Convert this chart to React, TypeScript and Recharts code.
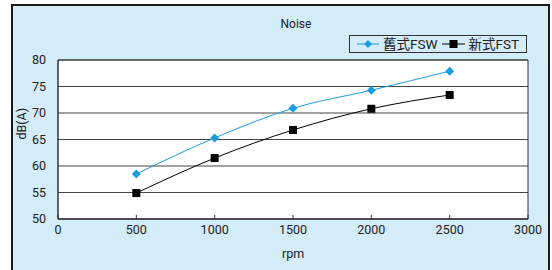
import { LineChart, Line, XAxis, YAxis, CartesianGrid, ReferenceArea } from 'recharts';

const rpm = [500, 1000, 1500, 2000, 2500];
const oldFsw = [58.5, 65.3, 70.9, 74.3, 77.9];
const newFst = [54.9, 61.5, 66.8, 70.8, 73.4];
const xTicks = [0, 500, 1000, 1500, 2000, 2500, 3000];
const yTicks = [50, 55, 60, 65, 70, 75, 80];

const data = rpm.map((r, i) => ({ rpm: r, fsw: oldFsw[i], fst: newFst[i] }));

const BLUE = '#1a9ee0';
const FONT = 'Roboto, "Noto Sans CJK JP", sans-serif';

function Diamond({ cx, cy }: any) {
  if (cx == null || cy == null) return null;
  return <polygon points={`${cx},${cy - 4.5} ${cx + 4.5},${cy} ${cx},${cy + 4.5} ${cx - 4.5},${cy}`} fill={BLUE} />;
}

function Square({ cx, cy }: any) {
  if (cx == null || cy == null) return null;
  return <rect x={cx - 4} y={cy - 4} width={8} height={8} fill="#000" />;
}

function LegendBox() {
  return (
    <div
      style={{
        position: 'absolute',
        left: 349,
        top: 35,
        width: 178,
        height: 18,
        boxSizing: 'border-box',
        display: 'flex',
        alignItems: 'center',
        border: '1px solid #333',
        background: '#d4ebf8',
        paddingLeft: 7,
        fontSize: 13.5,
        lineHeight: '16px',
        color: '#222',
        fontFamily: FONT,
      }}
    >
      <svg width={22} height={10} style={{ marginRight: 4 }}>
        <line x1={0} y1={5} x2={22} y2={5} stroke={BLUE} strokeWidth={1} />
        <polygon points="11,1 15,5 11,9 7,5" fill={BLUE} />
      </svg>
      <span style={{ marginRight: 5 }}>舊式FSW</span>
      <svg width={23} height={10} style={{ marginRight: 3 }}>
        <line x1={0} y1={5} x2={23} y2={5} stroke="#000" strokeWidth={1} />
        <rect x={7.5} y={1} width={8} height={8} fill="#000" />
      </svg>
      <span>新式FST</span>
    </div>
  );
}

export default function App() {
  return (
    <div style={{ position: 'absolute', left: 0, top: 0, width: 552, height: 270, background: '#fff', overflow: 'hidden' }}>
      <div
        style={{
          position: 'absolute',
          left: 11,
          top: 4,
          width: 535,
          height: 280,
          border: '2px solid #1a1a1a',
          background: '#d4ebf8',
        }}
      />
      <div
        style={{
          position: 'absolute',
          left: 0,
          top: 17,
          width: 592,
          textAlign: 'center',
          fontSize: 12,
          color: '#222',
          fontFamily: FONT,
        }}
      >
        Noise
      </div>
      <div style={{ position: 'absolute', left: 0, top: 0 }}>
        <LineChart width={552} height={270} data={data} margin={{ top: 60, right: 24, bottom: 21, left: 0 }}>
          <CartesianGrid vertical={false} stroke="#444" fill="#fff" fillOpacity={1} />
          <ReferenceArea x1={0} x2={3000} y1={50} y2={80} fill="none" stroke="#333" strokeWidth={1} ifOverflow="extendDomain" />
          <XAxis
            dataKey="rpm"
            type="number"
            domain={[0, 3000]}
            ticks={xTicks}
            interval={0}
            height={30}
            axisLine={{ stroke: '#333' }}
            tickLine={{ stroke: '#333' }}
            tickSize={-4}
            tickMargin={10}
            tick={{ fontSize: 12.5, fill: '#222', fontFamily: FONT }}
            label={{ value: 'rpm', position: 'insideBottom', offset: -9, fontSize: 12.5, fill: '#222', fontFamily: FONT }}
          />
          <YAxis
            type="number"
            domain={[50, 80]}
            ticks={yTicks}
            interval={0}
            width={58}
            axisLine={{ stroke: '#333' }}
            tickLine={false}
            tickMargin={6}
            tick={{ fontSize: 12.5, fill: '#222', fontFamily: FONT }}
            label={{ value: 'dB(A)', angle: -90, position: 'insideLeft', offset: 22, fontSize: 12.5, fill: '#222', fontFamily: FONT }}
          />
          <Line
            type="monotone"
            dataKey="fsw"
            name="舊式FSW"
            stroke={BLUE}
            strokeWidth={1}
            dot={<Diamond />}
            activeDot={false}
            isAnimationActive={false}
          />
          <Line
            type="monotone"
            dataKey="fst"
            name="新式FST"
            stroke="#000"
            strokeWidth={1}
            dot={<Square />}
            activeDot={false}
            isAnimationActive={false}
          />
        </LineChart>
      </div>
      <LegendBox />
    </div>
  );
}
